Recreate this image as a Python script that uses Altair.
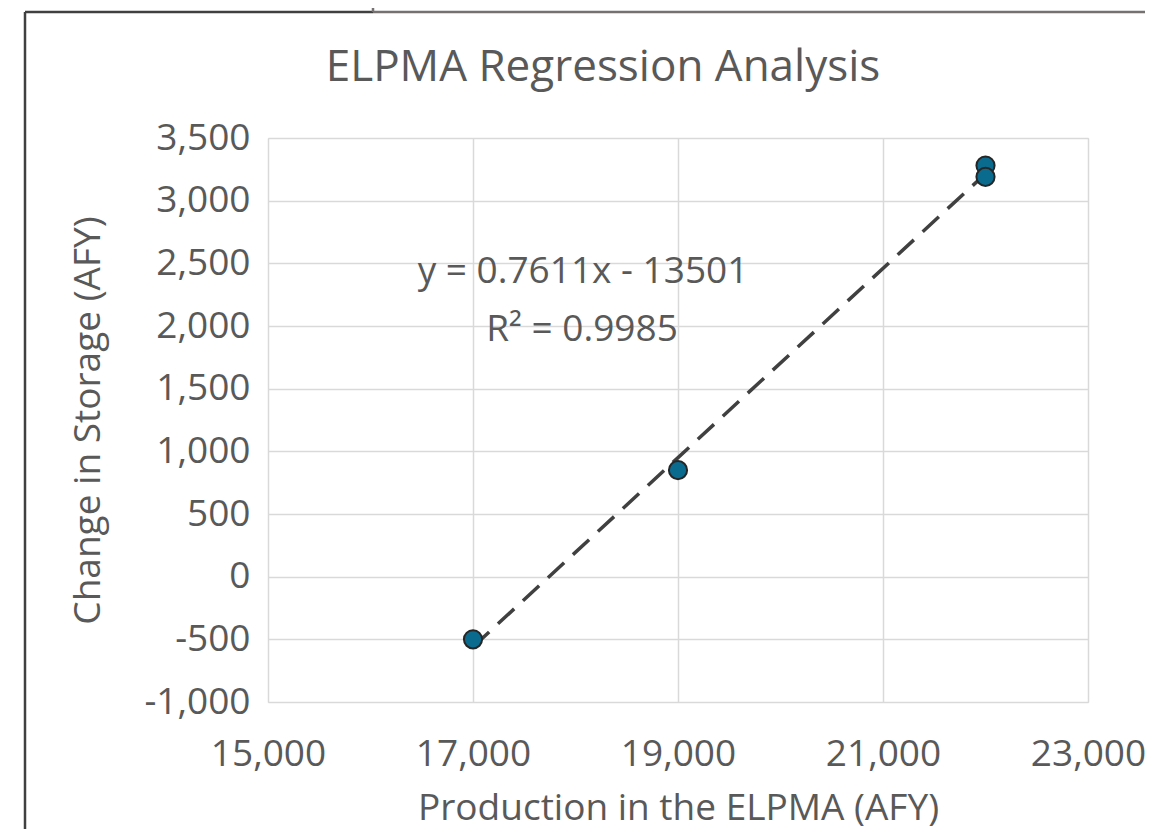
import altair as alt
import pandas as pd

# Data
production = [17000, 19000, 22000, 22000]
storage_change = [-500, 850, 3280, 3190]

x_ticks = [15000, 17000, 19000, 21000, 23000]
y_ticks = [-1000, -500, 0, 500, 1000, 1500, 2000, 2500, 3000, 3500]

title_text = "ELPMA Regression Analysis"
equation_text = "y = 0.7611x - 13501"
r2_text = "R² = 0.9985"
x_title = "Production in the ELPMA (AFY)"
y_title = "Change in Storage (AFY)"

df = pd.DataFrame({"x": production, "y": storage_change})

FONT = "Open Sans"
TXT = "#595959"
W, H = 820, 564
LBL = 37

xscale = alt.Scale(domain=[15000, 23000], nice=False, zero=False)
yscale = alt.Scale(domain=[-1000, 3500], nice=False, zero=False)

label_expr = "replace(format(datum.value, ',.0f'), '\u2212', '-')"

xaxis = alt.Axis(
    values=x_ticks, labelExpr=label_expr, ticks=False, domain=False, labelFlush=False,
    grid=True, gridColor="#d9d9d9", gridWidth=1.5,
    labelFont=FONT, labelFontSize=LBL, labelColor=TXT, labelPadding=34,
    title=x_title, titleFont=FONT, titleFontSize=LBL, titleFontWeight="normal",
    titleColor=TXT, titleX=W / 2, titleY=106, titleBaseline="middle",
)
yaxis = alt.Axis(
    values=y_ticks, labelExpr=label_expr, ticks=False, domain=False, labelFlush=False,
    grid=True, gridColor="#d9d9d9", gridWidth=1.5,
    labelFont=FONT, labelFontSize=LBL, labelColor=TXT, labelPadding=18,
    title=y_title, titleFont=FONT, titleFontSize=LBL, titleFontWeight="normal",
    titleColor=TXT, titleX=-180, titleY=H / 2, titleAngle=-90, titleBaseline="middle",
)

base = alt.Chart(df)

trend = base.transform_regression("x", "y").mark_line(
    color="#404040", strokeWidth=3.5, strokeDash=[22, 12]
).encode(
    x=alt.X("x:Q", scale=xscale, axis=xaxis),
    y=alt.Y("y:Q", scale=yscale, axis=yaxis),
)

points = base.mark_point(
    filled=True, size=330, fill="#0a6b8f", stroke="#262626", strokeWidth=2, opacity=1
).encode(
    x=alt.X("x:Q", scale=xscale),
    y=alt.Y("y:Q", scale=yscale),
)

def label(txt, px, py, size):
    return alt.Chart(pd.DataFrame({"t": [txt]})).mark_text(
        font=FONT, fontSize=size, color=TXT, align="center", baseline="middle"
    ).encode(text="t:N", x=alt.value(px), y=alt.value(py))

eq1 = label(equation_text, 315, 134, LBL)
eq2 = label(r2_text, 314, 192, LBL)
ttl = label(title_text, 335, -70, 44)

def rule(x1, x2, y1, y2, color, w=2.5):
    return alt.Chart(pd.DataFrame({"a": [0]})).mark_rule(
        color=color, strokeWidth=w, clip=False
    ).encode(x=alt.value(x1), x2=alt.value(x2), y=alt.value(y1), y2=alt.value(y2))

frame = (
    rule(-243, -243, -126, 700, "#404040")
    + rule(-243, 105, -126, -126, "#404040")
    + rule(105, 884, -126, -126, "#767171")
    + rule(105, 105, -140, -126, "#767171")
)

chart = alt.layer(trend, points, eq1, eq2, ttl, frame).properties(
    width=W, height=H,
    autosize=alt.AutoSizeParams(type="none"),
    padding={"left": 260, "top": 130, "right": 57, "bottom": 127},
).configure_view(stroke=None).configure(background="white")

chart.save("out.html", embed_options={"renderer": "svg", "actions": False})
